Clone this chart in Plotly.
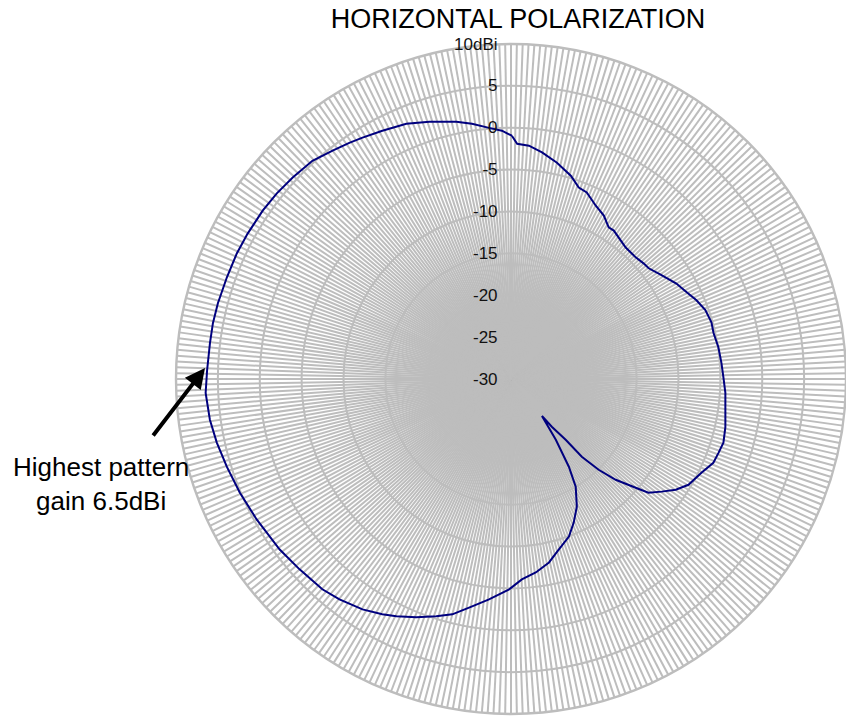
import plotly.graph_objects as go

# Measured antenna pattern (azimuth in degrees, clockwise from top; gain in dBi)
theta_deg = [0.2, 1.5, 4.4, 7.8, 12.0, 16.4, 19.5, 22.1, 26.0, 29.6, 32.8, 34.7,
             41.1, 45.7, 48.9, 51.2, 55.4, 60.0, 63.7, 67.0, 70.5, 74.2, 77.2,
             81.3, 85.7, 89.5, 93.7, 98.2, 102.6, 106.7, 109.6, 112.5, 116.2,
             120.8, 123.9, 126.8, 129.6, 131.1, 133.9, 136.0, 137.7, 138.0,
             139.5, 140.0, 143.6, 146.6, 149.0, 152.7, 156.4, 159.8, 164.3,
             168.3, 172.7, 176.9, 180.5, 185.7, 189.7, 194.0, 197.5, 201.7,
             205.8, 208.7, 212.8, 217.9, 221.9, 228.0, 233.6, 241.1, 247.3,
             252.8, 257.8, 262.3, 267.4, 271.7, 276.8, 280.6, 284.5, 289.7,
             294.6, 298.9, 304.2, 308.4, 312.7, 317.7, 322.0, 325.6, 328.4,
             332.6, 337.7, 342.4, 348.0, 351.3, 355.0, 357.9, 360.2]
gain_dbi = [-0.95, -1.9, -2.06, -2.7, -3.6, -4.7, -5.75, -5.96, -6.95, -7.56, -8.47, -8.44,
            -9.16, -9.2, -9.0, -8.9, -8.17, -7.2, -6.6, -5.94, -5.38, -5.13, -5.2,
            -4.95, -4.8, -4.64, -4.35, -4.14, -3.77, -3.52, -3.7, -3.85, -4.66,
            -5.33, -6.3, -7.55, -8.7, -10.25, -12.65, -14.93, -17.44, -20.2,
            -22.5, -24.25, -20.98, -17.45, -15.0, -12.86, -11.29, -9.96, -8.86,
            -7.63, -6.71, -6.04, -4.88, -3.56, -2.46, -1.04, -0.3, 0.62,
            1.46, 2.02, 2.73, 3.34, 3.73, 3.97, 4.31, 4.69, 5.11,
            5.51, 5.94, 6.28, 6.5, 6.3, 6.2, 6.21, 6.15, 6.03,
            6.01, 5.92, 5.82, 5.68, 5.47, 5.23, 4.6, 4.18, 3.83,
            3.38, 2.94, 2.23, 1.4, 0.83, 0.1, -0.33, -0.95]

radial_ticks = [-30, -25, -20, -15, -10, -5, 0, 5, 10]
radial_labels = ["-30", "-25", "-20", "-15", "-10", "-5", "0", "5", "10dBi"]

GRID = "#bdbdbd"
W, H = 846, 717

fig = go.Figure()
fig.add_trace(go.Scatterpolar(
    r=gain_dbi, theta=theta_deg, mode="lines",
    line=dict(color="#00007f", width=2),
    showlegend=False, hoverinfo="skip",
))

fig.update_layout(
    width=W, height=H,
    margin=dict(l=0, r=0, t=0, b=0),
    paper_bgcolor="white",
    font=dict(family="Liberation Sans, Arial, sans-serif", color="black"),
    title=dict(text="HORIZONTAL POLARIZATION", x=518 / W, xanchor="center",
               y=1 - 19 / H, yanchor="middle", yref="container",
               font=dict(size=27, color="black")),
    polar=dict(
        domain=dict(x=[176 / W, 1.0], y=[1 - 715 / H, 1 - 43 / H]),
        bgcolor="white",
        gridshape="circular",
        angularaxis=dict(
            rotation=90, direction="clockwise",
            tickmode="linear", tick0=0, dtick=1,
            showgrid=True, gridcolor=GRID, gridwidth=2.4,
            showline=True, linecolor=GRID, linewidth=2.4,
            showticklabels=False, ticks="",
        ),
        radialaxis=dict(
            range=[-30, 10], angle=90, side="counterclockwise",
            tickmode="array", tickvals=radial_ticks, ticktext=radial_labels,
            tickangle=90,
            showgrid=True, gridcolor=GRID, gridwidth=2.4,
            showline=False,
            ticks="outside", ticklen=7, tickcolor="rgba(0,0,0,0)",
            tickfont=dict(size=17, color="#111111"),
        ),
    ),
    annotations=[
        dict(text="Highest pattern<br>gain 6.5dBi", x=101 / W, y=1 - 484 / H,
             xref="paper", yref="paper", showarrow=False,
             xanchor="center", yanchor="middle", align="center",
             font=dict(size=26, color="black")),
        dict(text="", x=205 / W, y=1 - 368 / H, xref="paper", yref="paper",
             showarrow=True, ax=-53, ay=69, arrowhead=2, arrowsize=1,
             arrowwidth=4, arrowcolor="black"),
    ],
)

fig.write_html("out.html",
               config={"displayModeBar": False},
               post_script="document.body.style.margin='0';"
                           "document.body.style.overflow='hidden';")
